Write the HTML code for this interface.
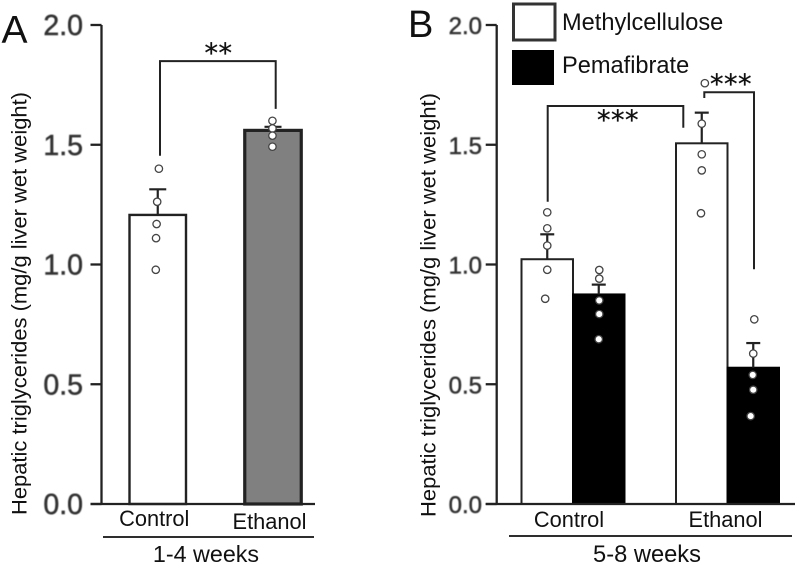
<!DOCTYPE html>
<html lang="en">
<head>
<meta charset="utf-8">
<title>Hepatic triglycerides</title>
<style>
html,body{margin:0;padding:0;background:#fff;}
svg{display:block;}
text{font-family:"Liberation Sans",sans-serif;fill:#111;}
.tick{fill:#333;stroke:#333;stroke-width:0.5;filter:url(#soft);}
.star{font-family:"DejaVu Sans",sans-serif;stroke:#111;stroke-width:0.3;}
</style>
</head>
<body>
<svg id="chart" width="796" height="563" viewBox="0 0 796 563" xmlns="http://www.w3.org/2000/svg">
<defs><filter id="soft" x="-10%" y="-10%" width="120%" height="120%"><feGaussianBlur stdDeviation="0.5"/></filter></defs>
<rect width="796" height="563" fill="#fff"/>
<g id="layerA"></g>
<g id="layerB"></g>

<text x="1.5" y="43" font-size="39">A</text>
<text x="408" y="37" font-size="38">B</text>

<text transform="translate(26.5,515) rotate(-90)" font-size="21.5" textLength="423" lengthAdjust="spacingAndGlyphs">Hepatic triglycerides (mg/g liver wet weight)</text>
<text transform="translate(435.5,517) rotate(-90)" font-size="21.5" textLength="424" lengthAdjust="spacingAndGlyphs">Hepatic triglycerides (mg/g liver wet weight)</text>

<line x1="103" y1="537" x2="314" y2="537" stroke="#111" stroke-width="1.8"/>
<line x1="509" y1="536" x2="792" y2="536" stroke="#111" stroke-width="1.8"/>
<text x="206" y="562" font-size="23.3" text-anchor="middle">1-4 weeks</text>
<text x="647" y="562" font-size="23.7" text-anchor="middle">5-8 weeks</text>

<g>
<rect x="513.5" y="4" width="41.5" height="36" fill="#fff" stroke="#333" stroke-width="3"/>
<rect x="512" y="50" width="42" height="35" fill="#000"/>
<text x="562" y="30" font-size="23.6">Methylcellulose</text>
<text x="562" y="73" font-size="23.6">Pemafibrate</text>
</g>
</svg>
<script>
// ---- Data ----
const tickValues = [0, 0.5, 1, 1.5, 2];
const tickLabels = ["0.0", "0.5", "1.0", "1.5", "2.0"];

const panelACategories = ["Control", "Ethanol"];
const panelAMeans = [1.207, 1.56];
const panelAErrors = [0.107, 0.015];
const panelAControlPoints = [1.40, 1.262, 1.169, 1.11, 0.978];
const panelAEthanolPoints = [1.60, 1.568, 1.538, 1.492];
const panelAControlJitter = [0.02, -0.01, -0.02, -0.03, -0.035];
const panelAEthanolJitter = [-0.01, -0.01, -0.01, -0.01];

const panelBCategories = ["Control", "Ethanol"];
const methylcelluloseMeans = [1.022, 1.506];
const methylcelluloseErrors = [0.104, 0.128];
const pemafibrateMeans = [0.875, 0.569];
const pemafibrateErrors = [0.041, 0.103];
const controlMethylPoints = [1.218, 1.151, 1.079, 0.978, 0.857];
const controlPemaPoints = [0.977, 0.941, 0.85, 0.793, 0.688];
const ethanolMethylPoints = [1.757, 1.588, 1.46, 1.393, 1.214];
const ethanolPemaPoints = [0.771, 0.628, 0.539, 0.477, 0.367];
const controlMethylJitter = [0, 0, 0, 0, -0.04];
const controlPemaJitter = [0.01, 0.01, 0.01, 0.01, 0];
const ethanolMethylJitter = [0.06, 0, 0, 0, -0.015];
const ethanolPemaJitter = [0.02, 0, -0.01, 0, -0.05];

// ---- Axis functions ----
const y = v => 504 - 239.5 * v;
const xA = i => 157.75 + 115.25 * i;
const xB = i => 573 + 154.5 * i;
const barWA = 56.5;
const barWB = 51.5;

const NS = "http://www.w3.org/2000/svg";
function make(parent, tag, attrs) {
  const el = document.createElementNS(NS, tag);
  for (const k in attrs) el.setAttribute(k, attrs[k]);
  parent.appendChild(el);
  return el;
}

function drawAxis(layer, axisX, xEnd, fontSize, labelX, baselineShift) {
  const yLine = make(layer, "line", {x1: axisX, y1: y(2), x2: axisX, y2: y(0), stroke: "#222", "stroke-width": 2.3});
  
  
  const xLine = make(layer, "line", {x1: axisX - 11, y1: y(0), x2: xEnd, y2: y(0), stroke: "#222", "stroke-width": 2.3});
  
  
  tickValues.forEach((v, i) => {
    const t = make(layer, "line", {x1: axisX - 11, y1: y(v), x2: axisX, y2: y(v), stroke: "#222", "stroke-width": 2.3});
    
    
    const lab = make(layer, "text", {x: labelX, y: y(v) + baselineShift, "font-size": fontSize, "text-anchor": "end", class: "tick"});
    
    
    lab.textContent = tickLabels[i];
  });
}

function drawBar(layer, left, width, value, fill, stroke, strokeWidth) {
  const r = make(layer, "rect", {x: left, y: y(value), width: width, height: y(0) - y(value), fill: fill, stroke: stroke, "stroke-width": strokeWidth});
  
  
}

function drawError(layer, cx, value, err, capWidth) {
  const stem = make(layer, "line", {x1: cx, y1: y(value), x2: cx, y2: y(value + err), stroke: "#222", "stroke-width": 2.2});
  
  
  const cap = make(layer, "line", {x1: cx - capWidth / 2, y1: y(value + err), x2: cx + capWidth / 2, y2: y(value + err), stroke: "#222", "stroke-width": 2.2});
  
  
}

function drawPoints(layer, cx, width, values, jitter) {
  values.forEach((v, i) => {
    const c = make(layer, "circle", {cx: cx + jitter[i] * width, cy: y(v), r: 3.7, fill: "#fff", stroke: "#444", "stroke-width": 1.3});
    
    
  });
}

function drawBracket(layer, x1, v1, x2, v2, level) {
  const p = make(layer, "polyline", {points: x1 + "," + y(v1) + " " + x1 + "," + y(level) + " " + x2 + "," + y(level) + " " + x2 + "," + y(v2), fill: "none", stroke: "#222", "stroke-width": 2});
  
  
}

function drawStars(layer, cx, baseline, label) {
  const s = make(layer, "text", {x: cx, y: baseline, "font-size": 27, "text-anchor": "middle", class: "star", "letter-spacing": 0.5});
  
  
  s.textContent = label;
}

function drawCategory(layer, cx, baseline, label) {
  const t = make(layer, "text", {x: cx, y: baseline, "font-size": 21.8, "text-anchor": "middle"});
  
  
  t.textContent = label;
}

// ---- Panel A ----
const A = document.getElementById("layerA");
drawBar(A, xA(0) - barWA / 2, barWA, panelAMeans[0], "#fff", "#222", 2.4);
drawBar(A, xA(1) - barWA / 2, barWA, panelAMeans[1], "#808080", "#222", 3.2);
drawError(A, xA(0), panelAMeans[0], panelAErrors[0], 17);
drawError(A, xA(1), panelAMeans[1], panelAErrors[1], 17);
drawPoints(A, xA(0), barWA, panelAControlPoints, panelAControlJitter);
drawPoints(A, xA(1), barWA, panelAEthanolPoints, panelAEthanolJitter);
drawAxis(A, 101.5, 315, 28.5, 83, 10);
drawBracket(A, 160, 1.454, 275.7, 1.65, 1.849);
drawStars(A, 218.5, 62, "**");
drawCategory(A, xA(0) - 3.5, 526, panelACategories[0]);
drawCategory(A, xA(1) - 3.5, 529, panelACategories[1]);

// ---- Panel B ----
const B = document.getElementById("layerB");
[0, 1].forEach(i => {
  drawBar(B, xB(i) - barWB, barWB, methylcelluloseMeans[i], "#fff", "#222", 2);
  drawBar(B, xB(i), barWB, pemafibrateMeans[i], "#000", "#000", 2);
  drawError(B, xB(i) - barWB / 2, methylcelluloseMeans[i], methylcelluloseErrors[i], 14);
  drawError(B, xB(i) + barWB / 2, pemafibrateMeans[i], pemafibrateErrors[i], 14);
});
drawPoints(B, xB(0) - barWB / 2, barWB, controlMethylPoints, controlMethylJitter);
drawPoints(B, xB(0) + barWB / 2, barWB, controlPemaPoints, controlPemaJitter);
drawPoints(B, xB(1) - barWB / 2, barWB, ethanolMethylPoints, ethanolMethylJitter);
drawPoints(B, xB(1) + barWB / 2, barWB, ethanolPemaPoints, ethanolPemaJitter);
drawAxis(B, 496.7, 795, 24, 482, 9);
drawBracket(B, 547.7, 1.262, 683.3, 1.571, 1.662);
drawBracket(B, 704.3, 1.695, 754, 0.98, 1.719);
drawStars(B, 618, 129, "***");
drawStars(B, 731, 93, "***");
drawCategory(B, xB(0) - 4, 527, panelBCategories[0]);
drawCategory(B, xB(1) - 2, 527, panelBCategories[1]);
</script>
</body>
</html>
